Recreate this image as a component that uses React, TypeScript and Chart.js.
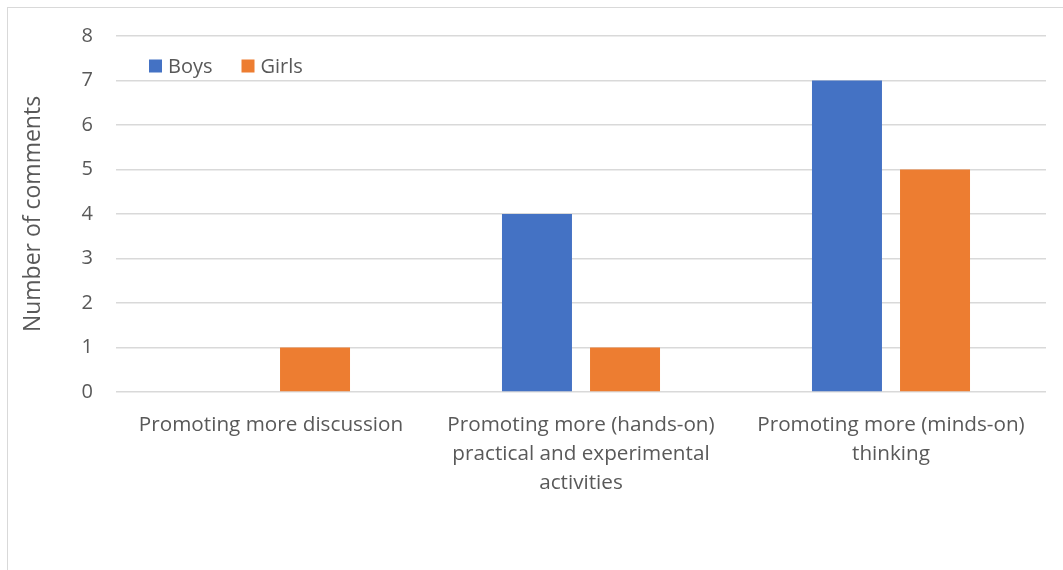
import React, { useEffect, useRef } from "react";
import { Chart, registerables } from "chart.js";

Chart.register(...registerables);

const categories: string[][] = [
  ["Promoting more discussion"],
  ["Promoting more (hands-on)", "practical and experimental", "activities"],
  ["Promoting more (minds-on)", "thinking"],
];
const seriesNames = ["Boys", "Girls"];
const boys = [0, 4, 7];
const girls = [1, 1, 5];
const yTicks = [0, 1, 2, 3, 4, 5, 6, 7, 8];

const FONT = "'Open Sans', 'Noto Sans', sans-serif";
const TEXT = "#595959";
const GRID = "#d9d9d9";
const BLUE = "#4472c4";
const ORANGE = "#ed7d31";

const insideLegend = {
  id: "insideLegend",
  afterDraw(chart: any) {
    const ctx = chart.ctx;
    const { left, top } = chart.chartArea;
    ctx.save();
    ctx.font = `20px ${FONT}`;
    ctx.textBaseline = "middle";
    ctx.textAlign = "left";
    let x = left + 33;
    const cy = top + 30;
    chart.data.datasets.forEach((ds: any) => {
      ctx.fillStyle = ds.backgroundColor;
      ctx.fillRect(x, cy - 6.5, 13, 13);
      ctx.fillStyle = TEXT;
      ctx.fillText(ds.label, x + 19, cy + 1);
      x += 19 + ctx.measureText(ds.label).width + 29;
    });
    ctx.restore();
  },
};

export default function App() {
  const ref = useRef<HTMLCanvasElement | null>(null);
  useEffect(() => {
    if (!ref.current) return;
    const chart = new Chart(ref.current, {
      type: "bar",
      data: {
        labels: categories,
        datasets: [
          { label: seriesNames[0], data: boys, backgroundColor: BLUE, borderWidth: 0 },
          { label: seriesNames[1], data: girls, backgroundColor: ORANGE, borderWidth: 0 },
        ],
      },
      options: {
        responsive: false,
        animation: false,
        layout: { padding: { left: 0, right: 17, top: 28, bottom: 0 } },
        datasets: { bar: { categoryPercentage: 0.568, barPercentage: 0.795 } },
        plugins: {
          legend: { display: false },
          tooltip: { enabled: false },
        },
        scales: {
          x: {
            grid: { display: false, drawTicks: false },
            border: { display: false },
            ticks: {
              color: TEXT,
              font: { family: FONT, size: 20.7, lineHeight: 29 / 20.7 },
              padding: 19,
              maxRotation: 0,
              autoSkip: false,
            },
            afterFit(scale: any) {
              scale.height = 178;
            },
          },
          y: {
            min: 0,
            max: 8,
            afterBuildTicks(scale: any) {
              scale.ticks = yTicks.map((v) => ({ value: v }));
            },
            grid: { color: GRID, lineWidth: 1.5, drawTicks: false },
            border: { display: false },
            ticks: {
              color: TEXT,
              font: { family: FONT, size: 20 },
              padding: 23,
            },
            title: {
              display: true,
              text: "Number of comments",
              color: TEXT,
              font: { family: FONT, size: 23, lineHeight: 1.2 },
              padding: { top: 12, bottom: 0 },
            },
            afterFit(scale: any) {
              scale.width = 108;
              scale.paddingTop = 0;
              scale.paddingBottom = 0;
            },
          },
        },
      },
      plugins: [insideLegend],
    });
    return () => chart.destroy();
  }, []);

  return (
    <div
      style={{
        position: "fixed",
        left: 7,
        top: 7,
        width: 1056,
        height: 563,
        borderLeft: `1px solid ${GRID}`,
        borderTop: `1px solid ${GRID}`,
        boxSizing: "border-box",
        background: "#fff",
      }}
    >
      <canvas ref={ref} width={1055} height={562} style={{ display: "block" }} />
    </div>
  );
}
